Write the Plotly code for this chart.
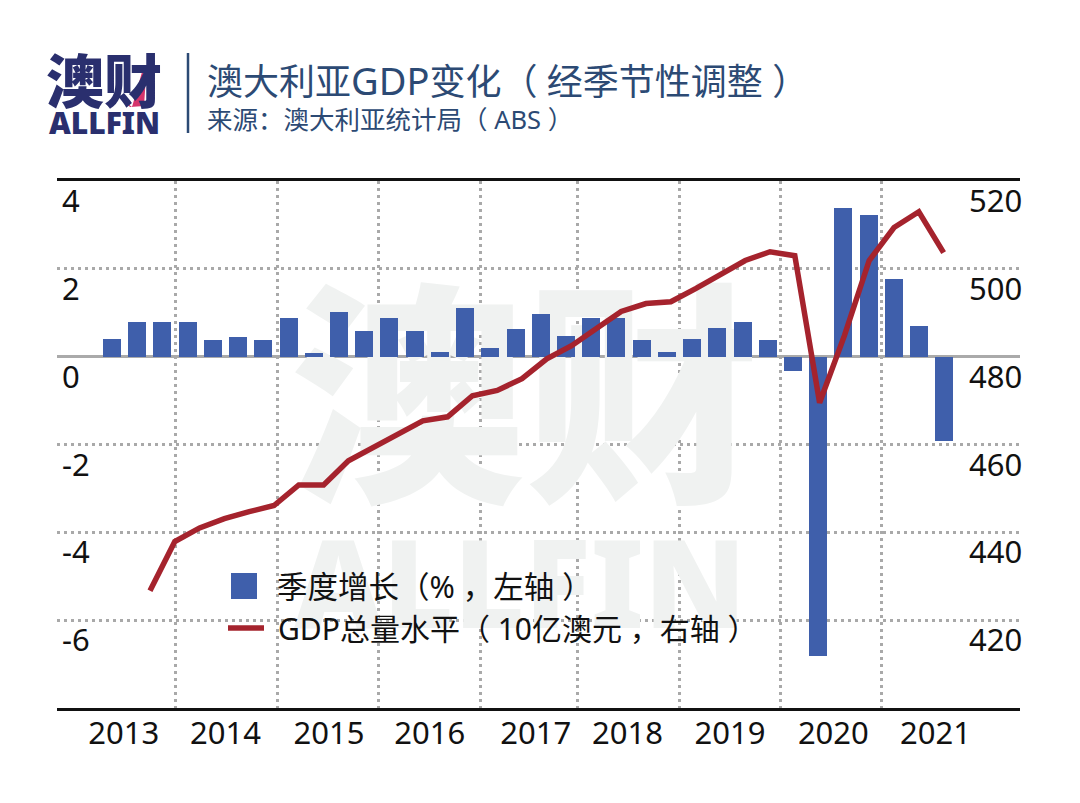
import plotly.graph_objects as go

W, H = 1080, 803
L, R, T, B = 57, 1020, 181, 708

years = ["2013", "2014", "2015", "2016", "2017", "2018", "2019", "2020", "2021"]
growth = [0.40, 0.78, 0.78, 0.78, 0.38, 0.44, 0.38, 0.88, 0.09, 1.01, 0.58, 0.87,
          0.58, 0.10, 1.10, 0.19, 0.63, 0.98, 0.46, 0.87, 0.87, 0.38, 0.11, 0.40,
          0.65, 0.78, 0.38, -0.32, -6.81, 3.39, 3.23, 1.77, 0.70, -1.92]
gdp = [426.7, 437.9, 441.0, 443.1, 444.7, 446.1, 450.8, 450.8, 456.3, 459.3, 462.2,
       465.4, 466.3, 471.1, 472.3, 475.0, 479.5, 482.5, 486.4, 490.3, 492.1, 492.5,
       495.5, 498.7, 501.9, 503.9, 503.0, 469.5, 484.8, 501.9, 509.4, 513.0, 503.7]
left_ticks = [4, 2, 0, -2, -4, -6]
right_ticks = [520, 500, 480, 460, 440, 420]
year_label_pos = [0.47, 4.5, 8.6, 12.6, 16.8, 20.44, 24.5, 28.6, 32.65]
year_bounds = [2.5, 6.55, 10.55, 14.6, 18.45, 22.5, 26.5, 30.5]

CJK = "Noto Sans, Noto Sans CJK SC, sans-serif"
TITLE = "#2c4a74"
BLUE = "#3f5fab"
RED = "#a5232d"
GRID = "#a9a9a9"
MARK = "#f0f2f1"
NB = "\u00a0"


def px(x):
    return (x - L) / (R - L)


def py(y):
    return (B - y) / (B - T)


fig = go.Figure()
# Watermark sits in the base subplot so that the bars and the line cover it.
fig.add_trace(go.Scatter(
    x=[525, 520], y=[425, 597], text=["澳财", "ALLFIN"], mode="text",
    textposition="middle center", hoverinfo="skip", showlegend=False,
    textfont=dict(family=CJK, size=[235, 122], color=MARK, weight=900),
    xaxis="x", yaxis="y"))
fig.add_trace(go.Bar(
    x=list(range(len(growth))), y=growth, marker=dict(color=BLUE, line_width=0),
    width=0.71, name="季度增长(%,左轴)", showlegend=False, xaxis="x2", yaxis="y2"))
fig.add_trace(go.Scatter(
    x=list(range(len(gdp))), y=gdp, mode="lines", name="GDP总量水平",
    line=dict(color=RED, width=5.5), showlegend=False, xaxis="x3", yaxis="y3"))

hidden = dict(visible=False, fixedrange=True)
annotations = []
for v in left_ticks:
    annotations.append(dict(text=str(v), xref="paper", yref="y2", x=px(60), y=v, yshift=-19,
                            xanchor="left", yanchor="middle", showarrow=False,
                            font=dict(family=CJK, size=31, color="#111")))
for v in right_ticks:
    annotations.append(dict(text=str(v), xref="paper", yref="y3", x=px(1024), y=v, yshift=-19,
                            xanchor="right", yanchor="middle", showarrow=False,
                            font=dict(family=CJK, size=31, color="#111")))


def label(text, x, y, size, color="#111", anchor="left", weight=400):
    annotations.append(dict(text=text, xref="paper", yref="paper", x=px(x), y=py(y),
                            xanchor=anchor, yanchor="middle", showarrow=False,
                            font=dict(family=CJK, size=size, color=color, weight=weight)))


label(f"季度增长（%{NB}，左轴{NB}）", 275, 586, 30.5)
label(f"GDP总量水平（{NB}10亿澳元{NB}，右轴{NB}）", 276, 628, 30)
label(f'澳大利亚<span style="font-size:38px">GDP</span>变化（{NB}经季节性调整{NB}）', 205, 80, 36, TITLE)
label(f"来源：澳大利亚统计局（{NB}ABS{NB}）", 205, 119, 25.5, TITLE)
label("澳财", 104, 80, 58, "#2a2f6e", "center", 900)
label("ALLFIN", 104, 122.5, 30, "#2a2f6e", "center", 900)

shapes = [
    dict(type="rect", xref="paper", yref="paper", x0=px(231), x1=px(257), y0=py(573), y1=py(599),
         fillcolor=BLUE, line_width=0),
    dict(type="line", xref="paper", yref="paper", x0=px(228), x1=px(264), y0=py(628), y1=py(628),
         line=dict(color=RED, width=5.5)),
    dict(type="line", xref="paper", yref="paper", x0=px(188), x1=px(188), y0=py(53), y1=py(133),
         line=dict(color=TITLE, width=2.5)),
    dict(type="path", xref="paper", yref="paper",
         path=f"M {px(123)} {py(100)} L {px(132)} {py(107)} L {px(142)} {py(72)} "
              f"L {px(146)} {py(76)} L {px(144)} {py(106)} L {px(130)} {py(107)} Z",
         fillcolor="#d5346b", line_width=0),
]

fig.update_layout(
    width=W, height=H, autosize=False,
    margin=dict(l=L, r=W - R, t=T, b=H - B, autoexpand=False),
    paper_bgcolor="white", plot_bgcolor="rgba(0,0,0,0)",
    font=dict(family=CJK, color="#111"),
    showlegend=False, bargap=0,
    annotations=annotations, shapes=shapes,
    xaxis=dict(range=[L, R], **hidden),
    yaxis=dict(range=[B, T], **hidden),
    xaxis2=dict(
        range=[-2.18, 36.0], overlaying="x", side="bottom", anchor="y2", fixedrange=True,
        tickmode="array", tickvals=year_label_pos, ticktext=years,
        tickfont=dict(family=CJK, size=31, color="#111"), ticks="", ticklabelstandoff=-4,
        showgrid=False, zeroline=False, showline=True, linecolor="#111", linewidth=3, mirror=True,
        minor=dict(tickmode="array", tickvals=year_bounds, showgrid=True, gridcolor=GRID,
                   griddash="3px,4px", gridwidth=3, ticks=""),
    ),
    yaxis2=dict(
        range=[-8, 4], overlaying="y", anchor="x2", fixedrange=True,
        tickmode="array", tickvals=[2, -2, -4, -6], showticklabels=False, ticks="",
        showgrid=True, gridcolor=GRID, griddash="3px,4px", gridwidth=3,
        zeroline=True, zerolinecolor="#aaaaaa", zerolinewidth=3,
    ),
    xaxis3=dict(range=[-3.75, 35.08], overlaying="x", anchor="y3", **{"visible": False, "fixedrange": True}),
    yaxis3=dict(range=[400, 520], overlaying="y", anchor="x3", side="right", **{"visible": False, "fixedrange": True}),
)

fig.write_html("out.html",
               post_script="document.body.style.margin='0';document.body.style.textSpacingTrim='space-all';",
               config={"displayModeBar": False})
